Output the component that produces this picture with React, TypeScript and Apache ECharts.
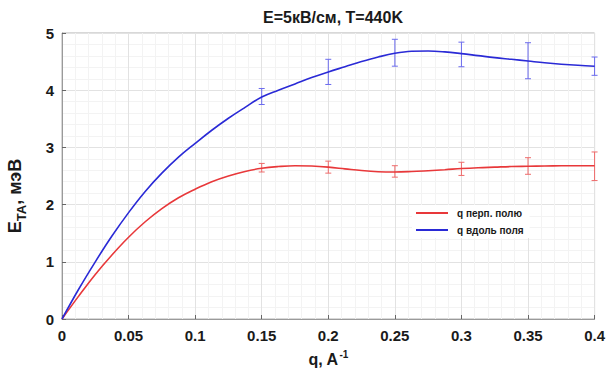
import React, { useEffect, useRef } from "react";
import * as echarts from "echarts";

const qGrid = [
  0, 0.0125, 0.025, 0.0375, 0.05, 0.0625, 0.075, 0.0875, 0.1, 0.1125, 0.125, 0.1375, 0.15,
  0.1625, 0.175, 0.1875, 0.2, 0.2125, 0.225, 0.2375, 0.25, 0.2625, 0.275, 0.2875, 0.3,
  0.3125, 0.325, 0.3375, 0.35, 0.3625, 0.375, 0.3875, 0.4,
];
const perpCurve = [
  0, 0.4, 0.78, 1.12, 1.43, 1.7, 1.93, 2.12, 2.27, 2.4, 2.5, 2.58, 2.635,
  2.665, 2.68, 2.675, 2.655, 2.625, 2.595, 2.575, 2.57, 2.578, 2.593, 2.61, 2.63,
  2.645, 2.655, 2.665, 2.67, 2.675, 2.678, 2.68, 2.68,
];
const alongCurve = [
  0, 0.52, 1.0, 1.45, 1.86, 2.23, 2.55, 2.83, 3.07, 3.3, 3.51, 3.7, 3.88,
  4.0, 4.11, 4.22, 4.32, 4.41, 4.5, 4.58, 4.645, 4.68, 4.685, 4.67, 4.64,
  4.605, 4.57, 4.54, 4.51, 4.48, 4.455, 4.435, 4.42,
];

const qPoints = [0.15, 0.2, 0.25, 0.3, 0.35, 0.4];
const perpLow = [2.57, 2.55, 2.48, 2.51, 2.53, 2.42];
const perpHigh = [2.72, 2.76, 2.68, 2.74, 2.82, 2.92];
const alongLow = [3.75, 4.1, 4.42, 4.41, 4.2, 4.26];
const alongHigh = [4.03, 4.54, 4.89, 4.84, 4.83, 4.58];

const xTicks = { min: 0, max: 0.4, interval: 0.05 };
const yTicks = { min: 0, max: 5, interval: 1 };

const RED = "#e8383a";
const BLUE = "#2a2ad6";
const FONT = "Liberation Sans, Arial, sans-serif";

function errorSeries(name: string, low: number[], high: number[], color: string) {
  const data = qPoints.map((q, i) => [q, low[i], high[i]]);
  return {
    name,
    type: "custom",
    silent: true,
    z: 3,
    renderItem: (params: any, api: any) => {
      const x = api.value(0);
      const p1 = api.coord([x, api.value(1)]);
      const p2 = api.coord([x, api.value(2)]);
      const cap = 3;
      const style = { stroke: color, lineWidth: 1, fill: "none" };
      return {
        type: "group",
        children: [
          { type: "line", shape: { x1: p1[0], y1: p1[1], x2: p2[0], y2: p2[1] }, style },
          { type: "line", shape: { x1: p1[0] - cap, y1: p1[1], x2: p1[0] + cap, y2: p1[1] }, style },
          { type: "line", shape: { x1: p2[0] - cap, y1: p2[1], x2: p2[0] + cap, y2: p2[1] }, style },
        ],
      };
    },
    data,
  };
}

export default function App() {
  const ref = useRef<HTMLDivElement>(null);
  useEffect(() => {
    if (!ref.current) return;
    const chart = echarts.init(ref.current, undefined, { renderer: "svg" });
    const axisLabel = { color: "#1a1a1a", fontSize: 15, fontWeight: "bold", fontFamily: FONT };
    chart.setOption({
      animation: false,
      backgroundColor: "#ffffff",
      title: {
        text: "E=5кВ/см, T=440K",
        left: 328,
        textAlign: "center",
        top: 4,
        textStyle: { fontSize: 16, fontWeight: "bold", color: "#1a1a1a", fontFamily: FONT },
      },
      grid: {
        left: 62,
        right: 13,
        top: 33,
        bottom: 57,
        show: true,
        borderColor: "#b0b0b0",
        borderWidth: 1,
        backgroundColor: "#ffffff",
      },
      legend: {
        data: ["q перп. полю", "q вдоль поля"],
        orient: "vertical",
        left: 412,
        top: 205,
        itemWidth: 32,
        itemHeight: 2,
        itemGap: 7,
        icon: "rect",
        backgroundColor: "#ffffff",
        padding: [3, 6, 3, 4],
        textStyle: { fontSize: 10, fontWeight: "bold", color: "#1a1a1a", fontFamily: FONT, padding: [0, 0, 0, 4] },
      },
      xAxis: {
        type: "value",
        ...xTicks,
        name: "{a|q, A}{b|-1}",
        nameLocation: "middle",
        nameGap: 30,
        nameTextStyle: {
          rich: {
            a: { fontSize: 16, fontWeight: "bold", color: "#1a1a1a", fontFamily: FONT, verticalAlign: "bottom", lineHeight: 18 },
            b: { fontSize: 10, fontWeight: "bold", color: "#1a1a1a", fontFamily: FONT, verticalAlign: "top", lineHeight: 18, padding: [0, 0, 8, 1] },
          },
        },
        axisLine: { show: true, lineStyle: { color: "#9a9a9a" } },
        axisTick: { show: true, inside: true, length: 4, lineStyle: { color: "#666" } },
        axisLabel: { ...axisLabel, margin: 9, formatter: (v: number) => (v === 0 ? "0" : String(Number(v.toFixed(2)))) },
        splitLine: { show: true, lineStyle: { color: "#e2e2e2", width: 1 } },
        minorTick: { show: false, splitNumber: 5 },
        minorSplitLine: { show: true, lineStyle: { color: "#f3f3f3", width: 1 } },
      },
      yAxis: {
        type: "value",
        ...yTicks,
        axisLine: { show: true, lineStyle: { color: "#9a9a9a" } },
        axisTick: { show: true, inside: true, length: 4, lineStyle: { color: "#666" } },
        axisLabel: { ...axisLabel, margin: 8 },
        splitLine: { show: true, lineStyle: { color: "#e2e2e2", width: 1 } },
        minorTick: { show: false, splitNumber: 5 },
        minorSplitLine: { show: true, lineStyle: { color: "#f3f3f3", width: 1 } },
      },
      graphic: [
        {
          type: "text",
          x: 17,
          y: 196,
          rotation: Math.PI / 2,
          style: {
            text: "{a|E}{b|TA}{a|, мэВ}",
            align: "center",
            verticalAlign: "middle",
            rich: {
              a: { fontSize: 18, fontWeight: "bold", fill: "#1a1a1a", fontFamily: FONT, verticalAlign: "top", lineHeight: 22 },
              b: { fontSize: 13, fontWeight: "bold", fill: "#1a1a1a", fontFamily: FONT, verticalAlign: "bottom", lineHeight: 22, padding: [8, 0, 0, 0] },
            },
          },
        },
      ],
      series: [
        {
          name: "q перп. полю",
          type: "line",
          smooth: 0.4,
          showSymbol: false,
          symbol: "circle",
          lineStyle: { color: RED, width: 1.6 },
          itemStyle: { color: RED },
          data: qGrid.map((q, i) => [q, perpCurve[i]]),
          z: 4,
        },
        {
          name: "q вдоль поля",
          type: "line",
          smooth: 0.4,
          showSymbol: false,
          symbol: "circle",
          lineStyle: { color: BLUE, width: 1.6 },
          itemStyle: { color: BLUE },
          data: qGrid.map((q, i) => [q, alongCurve[i]]),
          z: 4,
        },
        errorSeries("err-perp", perpLow, perpHigh, "#ee6b6b"),
        errorSeries("err-along", alongLow, alongHigh, "#6b6bee"),
      ],
    });
    return () => chart.dispose();
  }, []);
  return <div ref={ref} style={{ width: 608, height: 376, position: "absolute", left: 0, top: 0 }} />;
}
